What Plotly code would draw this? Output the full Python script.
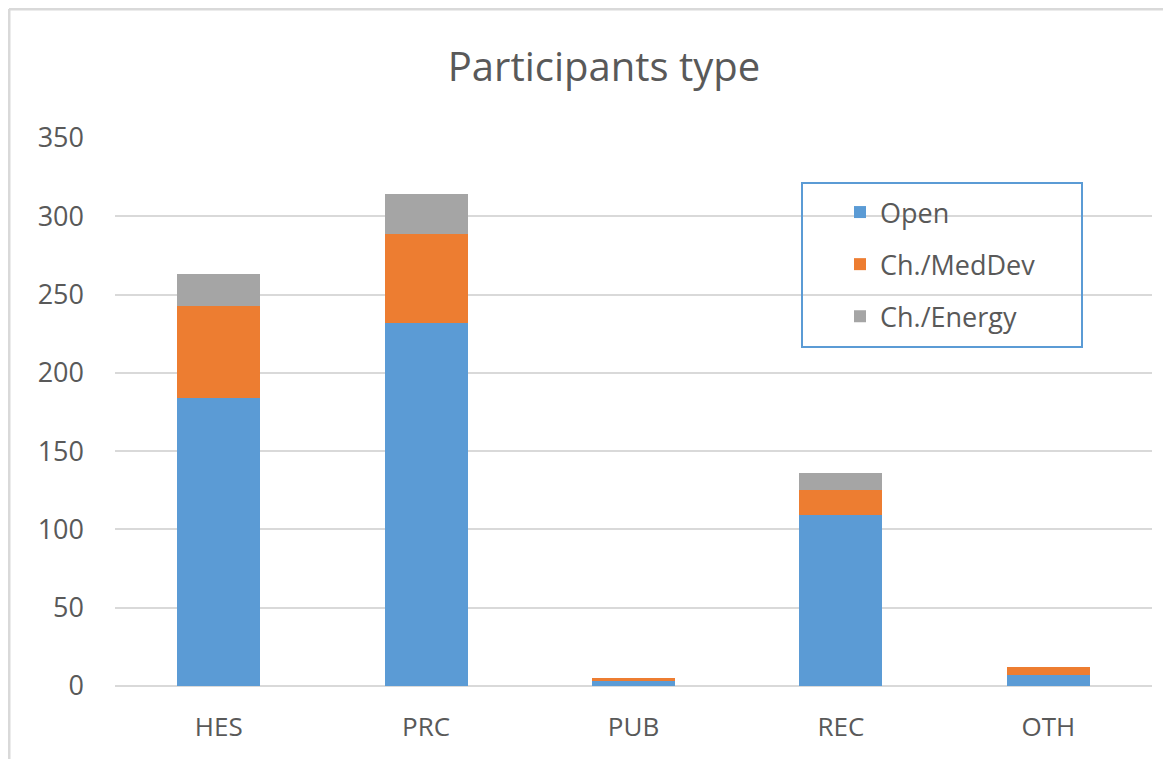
import plotly.graph_objects as go

categories = ["HES", "PRC", "PUB", "REC", "OTH"]
open_vals = [184, 232, 3, 109, 7]
meddev_vals = [59, 57, 2, 16, 5]
energy_vals = [20, 25, 0, 11, 0]

series = [
    ("Open", open_vals, "#5B9BD5"),
    ("Ch./MedDev", meddev_vals, "#ED7D31"),
    ("Ch./Energy", energy_vals, "#A5A5A5"),
]

fig = go.Figure()
for name, vals, col in series:
    fig.add_trace(go.Bar(
        x=categories, y=vals, name=name, marker_color=col,
        marker_line_width=0, legendgroup=name, width=0.4,
    ))

OFF = 8  # page body margin
W, H = 1155, 751
L = 115 - OFF
T = 138 - OFF
R = W - (1152 - OFF)
B = H - (686 - OFF)
pw, ph = W - L - R, H - T - B

def px(x):  # x in page pixels
    return (x - OFF - L) / pw

def py(y):  # y in page pixels
    return (H - B - (y - OFF)) / ph

font_family = "'Open Sans', sans-serif"

fig.update_layout(
    width=W, height=H,
    barmode="stack",
    margin=dict(l=L, r=R, t=T, b=B),
    paper_bgcolor="white",
    plot_bgcolor="white",
    font=dict(family=font_family, color="#595959", size=26),
    title=dict(text="Participants type", x=px(604), xanchor="center", xref="paper",
               y=1 - (67 - OFF) / H, yanchor="middle",
               font=dict(size=40, color="#595959", family=font_family)),
    showlegend=True,
    legend=dict(
        x=px(840), y=py(188), xanchor="left", yanchor="top",
        bgcolor="rgba(0,0,0,0)", borderwidth=0,
        font=dict(size=27, color="#595959"),
        traceorder="grouped", tracegroupgap=14,
    ),
    xaxis=dict(showline=False, ticks="", tickfont=dict(size=26, color="#595959"),
               showgrid=False, ticklabelstandoff=23),
    yaxis=dict(range=[0, 350], dtick=50, showgrid=True, gridcolor="#D9D9D9",
               gridwidth=2, zeroline=True, zerolinecolor="#D9D9D9", zerolinewidth=2,
               showline=False, ticks="", ticklabelstandoff=30,
               tickfont=dict(size=27, color="#595959")),
    shapes=[
        dict(type="rect", xref="paper", yref="paper",
             x0=px(802), x1=px(1082), y0=py(347), y1=py(183),
             line=dict(color="#5B9BD5", width=2), fillcolor="rgba(0,0,0,0)"),
        dict(type="line", xref="paper", yref="paper",
             x0=px(9), x1=px(9), y0=py(9), y1=py(800),
             line=dict(color="#D9D9D9", width=3)),
        dict(type="line", xref="paper", yref="paper",
             x0=px(9), x1=px(1200), y0=py(9), y1=py(9),
             line=dict(color="#D9D9D9", width=3)),
    ],
)

fig.write_html("out.html")
